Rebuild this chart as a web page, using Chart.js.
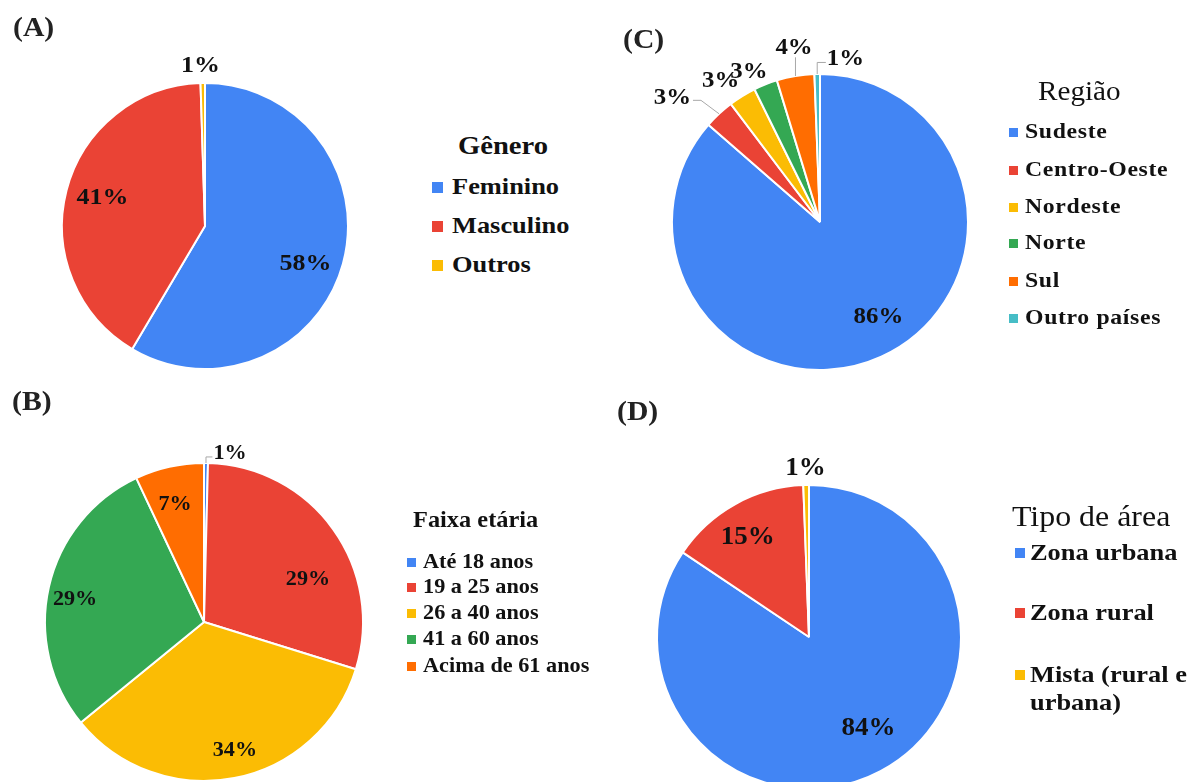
<!DOCTYPE html>
<html><head><meta charset="utf-8">
<script src="https://cdn.jsdelivr.net/npm/chart.js@4.4.1/dist/chart.umd.min.js"></script>
<style>
html,body{margin:0;padding:0;background:#fff;}
#page{position:relative;width:1190px;height:782px;overflow:hidden;font-family:"Liberation Serif","Times New Roman",serif;color:#111;}
canvas{position:absolute;}
.tag{position:absolute;font-weight:bold;font-size:27px;line-height:27px;white-space:nowrap;transform:scaleX(1.1);transform-origin:left center;color:#222;}
.lg{position:absolute;white-space:nowrap;transform-origin:left top;}
.mk{position:absolute;}
</style></head>
<body><div id="page"></div>
<script>
// ---------- DATA ----------
// (A) Gênero
const generoCats = ['Feminino', 'Masculino', 'Outros'];
const generoVals = [58.5, 41.0, 0.5];
const generoLabels = ['58%', '41%', '1%'];
// (B) Faixa etária
const faixaCats = ['Até 18 anos', '19 a 25 anos', '26 a 40 anos', '41 a 60 anos', 'Acima de 61 anos'];
const faixaVals = [0.4, 29.4, 34.3, 28.9, 7.0];
const faixaLabels = ['1%', '29%', '34%', '29%', '7%'];
// (C) Região
const regiaoCats = ['Sudeste', 'Centro-Oeste', 'Nordeste', 'Norte', 'Sul', 'Outro países'];
const regiaoVals = [86.4, 3.3, 3.0, 2.6, 4.1, 0.6];
const regiaoLabels = ['86%', '3%', '3%', '3%', '4%', '1%'];
// (D) Tipo de área
const areaCats = ['Zona urbana', 'Zona rural', 'Mista (rural e urbana)'];
const areaVals = [84.4, 15.0, 0.6];
const areaLabels = ['84%', '15%', '1%'];

// ---------- STYLE ----------
const BLUE = '#4285F4', RED = '#EA4335', YELLOW = '#FBBC04', GREEN = '#34A853', ORANGE = '#FF6D01', CYAN = '#46BDC6';
const FONT = '"Liberation Serif","Times New Roman",serif';

const panels = [
  { tag: '(A)', tagX: 13, tagY: 28, cx: 205, cy: 226, R: 143,
    cats: generoCats, vals: generoVals, labels: generoLabels, colors: [BLUE, RED, YELLOW],
    labelSize: 24,
    labelPos: [{a: 109.7, r: 0.746}, {a: 286.3, r: 0.747}, {a: 358.4, r: 1.133}],
    legend: {title: 'Gênero', titleX: 458, titleY: 147, titleSize: 26, titleWeight: 'bold',
      mkX: 432, mk: 11, textX: 452, ys: [187, 226, 265], size: 24, sx: 1.1, ls: 0} },
  { tag: '(B)', tagX: 12, tagY: 402, cx: 204, cy: 622, R: 159,
    cats: faixaCats, vals: faixaVals, labels: faixaLabels, colors: [BLUE, RED, YELLOW, GREEN, ORANGE],
    labelSize: 20.5,
    labelPos: [{a: 8.7, r: 1.082, leader: 'left', ky: 5}, {a: 67.1, r: 0.71}, {a: 166.3, r: 0.82},
               {a: 280.5, r: 0.825}, {a: 346.3, r: 0.77}],
    legend: {title: 'Faixa etária', titleX: 413, titleY: 520, titleSize: 23, titleWeight: 'bold',
      mkX: 407, mk: 9, textX: 423, ys: [562, 587, 613, 639, 666], size: 21, sx: 1.06, ls: 0} },
  { tag: '(C)', tagX: 623, tagY: 40, cx: 820, cy: 222, R: 148,
    cats: regiaoCats, vals: regiaoVals, labels: regiaoLabels, colors: [BLUE, RED, YELLOW, GREEN, ORANGE, CYAN],
    labelSize: 23,
    labelPos: [{a: 148, r: 0.745}, {a: 310.4, r: 1.31, leader: 'right', kx: 10, ky: 4},
               {a: 325.1, r: 1.174}, {a: 334.9, r: 1.133}, {a: 351.6, r: 1.2, leader: 'up', ky: 11},
               {a: 8.8, r: 1.125, leader: 'left', ky: 5}],
    legend: {title: 'Região', titleX: 1038, titleY: 92, titleSize: 27, titleWeight: 'normal',
      mkX: 1009, mk: 9, textX: 1025, ys: [132, 170, 207, 243, 281, 318], size: 22, sx: 1.08, ls: 0.6} },
  { tag: '(D)', tagX: 617, tagY: 412, cx: 809, cy: 637, R: 152,
    cats: areaCats, vals: areaVals, labels: areaLabels, colors: [BLUE, RED, YELLOW],
    labelSize: 25,
    labelPos: [{a: 146.5, r: 0.71}, {a: 328.9, r: 0.78}, {a: 358.8, r: 1.125}],
    legend: {title: 'Tipo de área', titleX: 1012, titleY: 517, titleSize: 29, titleWeight: 'normal',
      mkX: 1015, mk: 10, textX: 1030, ys: [553, 613, 675], size: 24, sx: 1.1, ls: 0, wrapW: 150, lh: 28} }
];

const PAD = 70, BW = 2;
const page = document.getElementById('page');

const labelPlugin = {
  id: 'pctLabels',
  afterDatasetsDraw(chart, args, opts) {
    const ctx = chart.ctx;
    const meta = chart.getDatasetMeta(0);
    meta.data.forEach((arc, i) => {
      const p = opts.pos[i];
      const R = arc.outerRadius;
      const a = p.a * Math.PI / 180;
      const tx = arc.x + Math.sin(a) * p.r * R;
      const ty = arc.y - Math.cos(a) * p.r * R;
      const txt = opts.labels[i];
      ctx.save();
      ctx.font = 'bold ' + opts.size + 'px ' + FONT;
      const w = ctx.measureText(txt).width * opts.sx;
      if (p.leader) {
        const mid = (arc.startAngle + arc.endAngle) / 2;
        const x0 = arc.x + Math.cos(mid) * R, y0 = arc.y + Math.sin(mid) * R;
        ctx.strokeStyle = '#a8a8a8';
        ctx.lineWidth = 1;
        ctx.beginPath();
        ctx.moveTo(x0, y0);
        if (p.leader === 'left') {
          const ky = ty + p.ky;
          ctx.lineTo(x0, ky);
          ctx.lineTo(tx - w / 2 - 1, ky);
        } else if (p.leader === 'right') {
          const ky = ty + p.ky;
          ctx.lineTo(tx + w / 2 + p.kx, ky);
          ctx.lineTo(tx + w / 2 + 2, ky);
        } else if (p.leader === 'up') {
          ctx.lineTo(x0, ty + p.ky);
        }
        ctx.stroke();
      }
      ctx.translate(tx, ty);
      ctx.scale(opts.sx, 1);
      ctx.textAlign = 'center';
      ctx.textBaseline = 'alphabetic';
      ctx.fillStyle = '#111';
      ctx.fillText(txt, 0, opts.size * 0.34);
      ctx.restore();
    });
  }
};

panels.forEach(p => {
  // canvas sized so that the pie has radius R centred at (cx, cy)
  const S = 2 * p.R + BW + 2 * PAD;
  const cv = document.createElement('canvas');
  cv.width = S; cv.height = S;
  cv.style.left = (p.cx - p.R - BW / 2 - PAD) + 'px';
  cv.style.top = (p.cy - p.R - BW / 2 - PAD) + 'px';
  cv.style.width = S + 'px'; cv.style.height = S + 'px';
  page.appendChild(cv);
  new Chart(cv, {
    type: 'pie',
    data: {
      labels: p.cats,
      datasets: [{ data: p.vals, backgroundColor: p.colors, borderColor: '#ffffff', borderWidth: BW, hoverOffset: 0 }]
    },
    options: {
      responsive: false,
      animation: false,
      events: [],
      layout: { padding: PAD },
      plugins: {
        legend: { display: false },
        title: { display: false },
        tooltip: { enabled: false },
        pctLabels: { pos: p.labelPos, labels: p.labels, size: p.labelSize, sx: 1.08 }
      }
    },
    plugins: [labelPlugin]
  });

  // panel tag
  const t = document.createElement('div');
  t.className = 'tag';
  t.textContent = p.tag;
  t.style.left = p.tagX + 'px';
  t.style.top = (p.tagY - 14) + 'px';
  page.appendChild(t);

  // legend
  const L = p.legend;
  const title = document.createElement('div');
  title.className = 'lg';
  title.textContent = L.title;
  title.style.left = L.titleX + 'px';
  title.style.top = (L.titleY - 0.53 * L.titleSize) + 'px';
  title.style.fontSize = L.titleSize + 'px';
  title.style.lineHeight = L.titleSize + 'px';
  title.style.fontWeight = L.titleWeight;
  title.style.transform = 'scaleX(' + L.sx + ')';
  page.appendChild(title);

  p.cats.forEach((c, i) => {
    const m = document.createElement('div');
    m.className = 'mk';
    m.style.left = L.mkX + 'px';
    m.style.top = (L.ys[i] - L.mk / 2) + 'px';
    m.style.width = L.mk + 'px';
    m.style.height = L.mk + 'px';
    m.style.background = p.colors[i];
    page.appendChild(m);

    const d = document.createElement('div');
    d.className = 'lg';
    d.textContent = c;
    const lh = L.lh || L.size;
    d.style.left = L.textX + 'px';
    d.style.top = (L.ys[i] - 0.53 * L.size - (lh - L.size) / 2) + 'px';
    d.style.fontSize = L.size + 'px';
    d.style.lineHeight = lh + 'px';
    d.style.fontWeight = 'bold';
    d.style.letterSpacing = L.ls + 'px';
    d.style.transform = 'scaleX(' + L.sx + ')';
    if (L.wrapW) { d.style.whiteSpace = 'normal'; d.style.width = L.wrapW + 'px'; }
    page.appendChild(d);
  });
});
</script>
</body></html>
